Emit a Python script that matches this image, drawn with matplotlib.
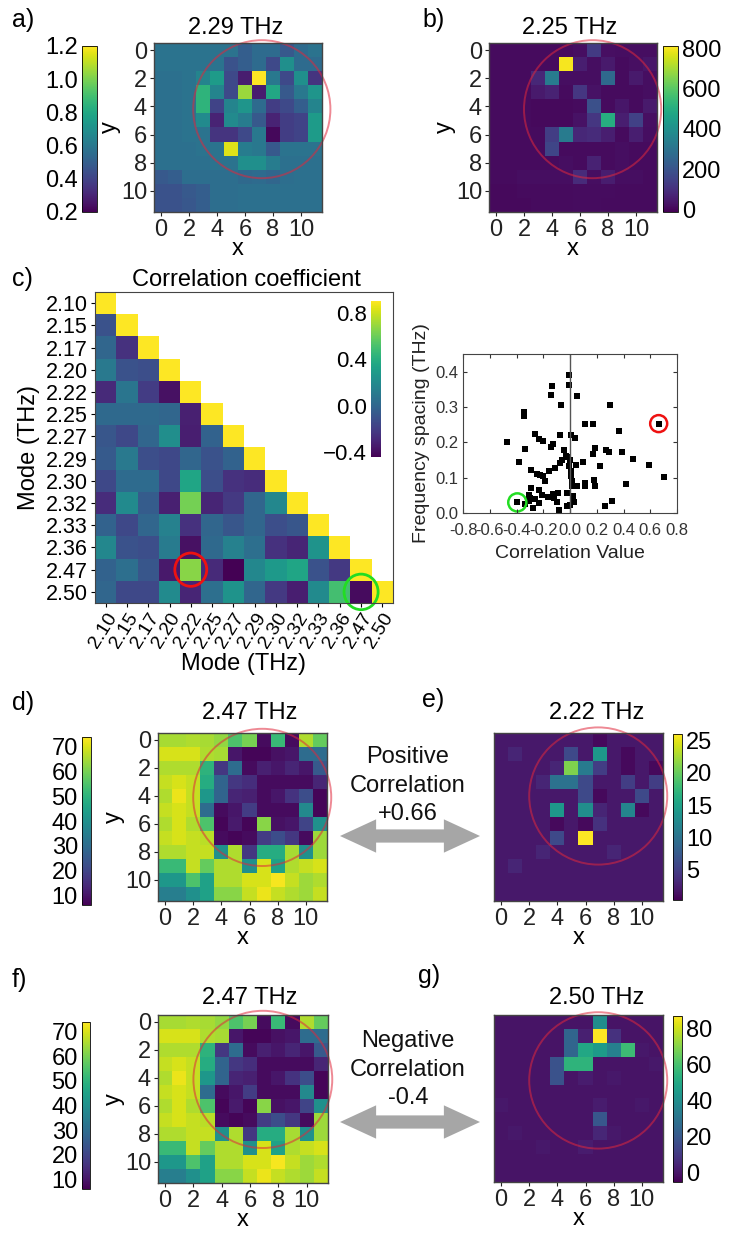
import numpy as np
import matplotlib.pyplot as plt
from matplotlib.patches import Circle, FancyArrowPatch

plt.rcParams['font.family'] = ['Liberation Sans', 'DejaVu Sans']

W, H = 730, 1234

# ---- mode maps (12 x 12, rows = y, cols = x) ----
map_229 = [
    [0.58, 0.58, 0.58, 0.58, 0.58, 0.58, 0.50, 0.55, 0.55, 0.48, 0.55, 0.58],
    [0.58, 0.58, 0.58, 0.58, 0.58, 0.45, 0.50, 0.55, 0.42, 0.70, 0.55, 0.55],
    [0.57, 0.57, 0.58, 0.65, 0.75, 0.42, 0.28, 1.20, 0.60, 0.42, 0.70, 0.35],
    [0.57, 0.57, 0.58, 0.85, 0.65, 0.42, 1.05, 0.28, 0.80, 0.48, 0.60, 0.72],
    [0.57, 0.57, 0.58, 0.85, 0.40, 0.65, 0.72, 0.55, 0.38, 0.42, 0.50, 0.65],
    [0.57, 0.57, 0.58, 0.68, 0.30, 0.68, 0.62, 0.48, 0.30, 0.38, 0.40, 0.75],
    [0.57, 0.57, 0.58, 0.58, 0.35, 0.35, 0.42, 0.60, 0.22, 0.38, 0.40, 0.75],
    [0.57, 0.57, 0.57, 0.58, 0.58, 1.15, 0.62, 0.60, 0.48, 0.58, 0.58, 0.58],
    [0.57, 0.57, 0.57, 0.57, 0.58, 0.58, 0.70, 0.70, 0.62, 0.57, 0.57, 0.57],
    [0.48, 0.50, 0.56, 0.56, 0.56, 0.56, 0.54, 0.55, 0.53, 0.56, 0.57, 0.57],
    [0.45, 0.45, 0.48, 0.50, 0.56, 0.56, 0.57, 0.57, 0.57, 0.57, 0.57, 0.57],
    [0.45, 0.45, 0.47, 0.50, 0.56, 0.56, 0.57, 0.57, 0.57, 0.57, 0.57, 0.57],
]

map_225 = [
    [15, 15, 15, 15, 15, 15, 20, 130, 25, 20, 20, 20],
    [15, 15, 15, 15, 15, 800, 60, 20, 50, 15, 25, 40],
    [15, 15, 15, 80, 330, 20, 20, 20, 270, 15, 50, 20],
    [15, 15, 15, 50, 70, 15, 120, 30, 15, 15, 15, 20],
    [15, 15, 15, 10, 10, 10, 15, 190, 15, 40, 15, 50],
    [15, 15, 15, 10, 10, 10, 30, 120, 500, 60, 150, 25],
    [15, 15, 15, 15, 140, 330, 80, 90, 60, 15, 60, 20],
    [15, 15, 15, 15, 160, 15, 15, 15, 15, 20, 15, 15],
    [15, 15, 15, 15, 15, 20, 15, 70, 15, 20, 15, 15],
    [15, 15, 20, 20, 20, 20, 90, 20, 55, 20, 20, 15],
    [12, 12, 15, 15, 15, 15, 18, 18, 18, 15, 15, 15],
    [10, 12, 12, 15, 15, 15, 18, 18, 15, 15, 15, 15],
]

map_247 = [
    [65, 65, 66, 65, 63, 55, 60, 8, 52, 8, 66, 58],
    [70, 70, 70, 66, 65, 10, 7, 7, 9, 10, 30, 30],
    [66, 66, 66, 50, 17, 30, 8, 12, 10, 13, 10, 25],
    [68, 70, 68, 48, 28, 17, 15, 8, 8, 8, 8, 13],
    [66, 72, 68, 42, 28, 13, 12, 8, 10, 16, 22, 7],
    [68, 70, 68, 30, 8, 10, 18, 8, 8, 8, 38, 7],
    [66, 70, 66, 55, 7, 11, 7, 62, 9, 10, 20, 40],
    [68, 70, 68, 67, 8, 7, 8, 18, 22, 17, 8, 64],
    [66, 66, 68, 68, 40, 66, 17, 48, 48, 65, 40, 64],
    [52, 52, 68, 58, 66, 66, 40, 70, 45, 66, 68, 70],
    [42, 42, 55, 45, 66, 66, 70, 70, 73, 68, 64, 66],
    [35, 35, 40, 45, 62, 62, 68, 72, 68, 66, 64, 68],
]

map_222 = [
    [2, 2, 2, 2, 2, 2, 2, 1, 2, 2, 2, 2],
    [2, 3, 2, 2, 2, 6, 2, 14, 2, 1, 2, 2],
    [2, 2, 2, 2, 3, 21, 11, 5, 2, 1, 2, 1],
    [2, 2, 2, 3, 10, 10, 6, 2, 2, 5, 2, 5],
    [2, 2, 2, 2, 2, 2, 6, 1, 2, 2, 6, 2],
    [2, 2, 2, 2, 14, 2, 13, 3, 2, 12, 1, 2],
    [2, 2, 2, 2, 1, 2, 1, 4, 2, 2, 2, 2],
    [2, 2, 2, 2, 6, 2, 26, 2, 2, 2, 2, 2],
    [2, 2, 2, 3, 2, 2, 2, 2, 3, 2, 2, 2],
    [2, 3, 2, 2, 2, 2, 2, 2, 2, 2, 2, 2],
    [2, 2, 2, 2, 2, 2, 2, 2, 2, 2, 2, 2],
    [2, 2, 2, 2, 2, 2, 2, 2, 2, 2, 2, 2],
]

map_250 = [
    [0, 0, 0, 0, 0, 0, 0, 40, 0, 0, 0, 0],
    [0, 0, 0, 0, 0, 25, 3, 87, 8, 0, 0, 0],
    [0, 0, 0, 0, 0, 25, 50, 45, 35, 58, 1, 0],
    [0, 0, 0, 0, 18, 55, 55, 0, 0, 0, 0, 1],
    [0, 0, 0, 0, 18, 0, 2, 0, 1, 0, 0, 0],
    [0, 0, 0, 0, 0, 0, 0, 0, 0, 0, 0, 0],
    [1, 0, 0, 0, 0, 0, 0, 2, 0, 0, 1, 0],
    [0, 0, 0, 0, 0, 0, 0, 20, 0, 0, 0, 0],
    [0, 1, 0, 0, 0, 0, 0, 5, 1, 0, 0, 0],
    [0, 0, 0, 1, 0, 0, 2, 0, 0, 0, 0, 0],
    [0, 0, 0, 0, 0, 0, 0, 0, 0, 0, 0, 0],
    [0, 0, 0, 0, 0, 0, 0, 0, 0, 0, 0, 0],
]

# ---- correlation matrix (lower triangle, row by row) ----
modes = ['2.10', '2.15', '2.17', '2.20', '2.22', '2.25', '2.27',
         '2.29', '2.30', '2.32', '2.33', '2.36', '2.47', '2.50']
corr_rows = [
    [],
    [-0.10],
    [0.00, -0.25],
    [0.10, -0.10, -0.12],
    [-0.28, 0.08, -0.20, -0.38],
    [0.02, 0.02, 0.02, 0.00, -0.32],
    [-0.08, -0.15, 0.00, 0.22, -0.33, -0.02],
    [-0.06, 0.10, -0.12, -0.15, 0.00, -0.10, -0.02],
    [-0.15, 0.03, 0.03, -0.15, 0.35, -0.12, -0.25, -0.27],
    [-0.27, 0.20, -0.05, -0.32, 0.62, -0.30, -0.22, 0.00, 0.18],
    [-0.02, -0.15, 0.00, 0.15, -0.25, 0.00, -0.08, 0.00, -0.12, -0.08],
    [0.18, -0.10, -0.12, 0.12, -0.38, 0.02, 0.15, 0.05, -0.25, -0.30, 0.25],
    [-0.02, 0.05, -0.08, -0.35, 0.66, -0.28, -0.44, 0.18, 0.28, 0.35, -0.10, -0.22],
    [0.00, -0.15, -0.15, 0.20, -0.30, 0.05, 0.25, 0.00, -0.22, -0.33, 0.20, 0.50, -0.40],
]

# ---- scatter: correlation value vs frequency spacing ----
corr_vals = [-0.474, -0.342, -0.342, -0.339, -0.379, -0.394, -0.337, -0.309, -0.294,
             -0.299, -0.294, -0.274, -0.262, -0.229, -0.204, -0.249, -0.224, -0.204,
             -0.187, -0.229, -0.212, -0.232, -0.155, -0.145, -0.132, -0.145, -0.125,
             -0.112, -0.130, -0.117, -0.100, -0.087, -0.080, -0.067, -0.075, -0.075,
             -0.060, -0.045, -0.032, -0.020, -0.007, -0.010, -0.020, -0.020, 0.007,
             0.037, 0.055, -0.005, 0.007, 0.017, 0.025, 0.032, 0.000, 0.050, 0.045,
             0.100, 0.115, 0.115, 0.115, 0.175, 0.187, 0.170, 0.182, 0.187, 0.227,
             0.264, 0.267, 0.289, 0.299, 0.317, 0.364, 0.389, 0.419, 0.471, 0.591,
             0.663, 0.703, 0.002, 0.010, 0.012, -0.165, -0.310, -0.260]
spacing_vals = [0.202, 0.285, 0.275, 0.182, 0.145, 0.030, 0.025, 0.051, 0.071,
                0.042, 0.123, 0.013, 0.224, 0.210, 0.203, 0.110, 0.108, 0.104,
                0.091, 0.064, 0.050, 0.028, 0.118, 0.333, 0.359, 0.187, 0.194,
                0.128, 0.054, 0.042, 0.032, 0.058, 0.009, 0.306, 0.221, 0.142,
                0.151, 0.178, 0.161, 0.159, 0.391, 0.363, 0.056, 0.021, 0.220,
                0.213, 0.330, 0.132, 0.106, 0.075, 0.049, 0.032, 0.023, 0.075, 0.137,
                0.145, 0.085, 0.077, 0.253, 0.253, 0.185, 0.168, 0.094, 0.075, 0.132,
                0.019, 0.178, 0.173, 0.306, 0.034, 0.231, 0.172, 0.081, 0.153, 0.137,
                0.253, 0.101, 0.150, 0.120, 0.090, 0.045, 0.035, 0.040]
scatter_xticks = [-0.8, -0.6, -0.4, -0.2, 0.0, 0.2, 0.4, 0.6, 0.8]
scatter_xlabels = ['-0.8', '-0.6', '-0.4', '-0.2', '0.0', '0.2', '0.4', '0.6', '0.8']
scatter_yticks = [0.0, 0.1, 0.2, 0.3, 0.4]


fig = plt.figure(figsize=(W / 100, H / 100), dpi=100)


def px_axes(left, top, w, h):
    return fig.add_axes([left / W, 1 - (top + h) / H, w / W, h / H])


def ftext(x, y, s, **kw):
    fig.text(x / W, 1 - y / H, s, **kw)


def mode_map(pos, cpos, data, vmin, vmax, cticks, cb_left, title, tpos, circ, yaxis=True):
    ax = px_axes(*pos)
    im = ax.imshow(np.array(data), cmap='viridis', vmin=vmin, vmax=vmax,
                   interpolation='nearest', aspect='auto')
    ax.set_xticks(range(0, 12, 2))
    ax.set_yticks(range(0, 12, 2))
    ax.tick_params(labelsize=17, length=3, width=0.8, pad=2, colors='#222222')
    ax.set_xlabel('x', fontsize=17, labelpad=-2)
    if yaxis:
        ax.set_ylabel('y', fontsize=17, labelpad=0)
    else:
        ax.tick_params(axis='y', left=False, labelleft=False)
    for sp in ax.spines.values():
        sp.set_color('#444444')
        sp.set_linewidth(1)
    ax.add_patch(Circle((circ[0], circ[1]), circ[2], fill=False, ec='#e0283c',
                        alpha=0.55, lw=1.4, clip_on=False))
    cax = px_axes(*cpos)
    cb = fig.colorbar(im, cax=cax, ticks=cticks)
    cb.outline.set_linewidth(0.6)
    cax.tick_params(labelsize=17, length=0, pad=3)
    if cb_left:
        cax.yaxis.set_ticks_position('left')
        cax.yaxis.set_label_position('left')
    ftext(tpos[0], tpos[1], title, fontsize=17, ha='center', va='baseline')
    return ax


# a) and b)
mode_map((154, 43, 168, 169), (82, 46, 15, 166), map_229, 0.2, 1.2,
         [0.2, 0.4, 0.6, 0.8, 1.0, 1.2], True, '2.29 THz', (236, 34), (7.2, 4.2, 4.9))
mode_map((489, 43, 168, 169), (663, 46, 15, 166), map_225, -10, 810,
         [0, 200, 400, 600, 800], False, '2.25 THz', (570, 34), (6.9, 4.2, 4.9))
ftext(12, 27, 'a)', fontsize=18, va='baseline')
ftext(422, 27, 'b)', fontsize=18, va='baseline')

# c) correlation matrix
n = len(modes)
corr = np.full((n, n), np.nan)
for i, row in enumerate(corr_rows):
    corr[i, :len(row)] = row
    corr[i, i] = 1.0
axc = px_axes(95, 292, 298, 311)
imc = axc.imshow(np.ma.masked_invalid(corr), cmap='viridis', vmin=-0.44, vmax=0.9,
                 interpolation='nearest', aspect='auto')
axc.set_xticks(range(n))
axc.set_yticks(range(n))
axc.set_xticklabels(modes, rotation=58, ha='right', rotation_mode='anchor', fontsize=14)
axc.set_yticklabels(modes, fontsize=15.5)
axc.tick_params(length=3, width=0.8, pad=2)
axc.set_xlabel('Mode (THz)', fontsize=17, labelpad=1)
axc.set_ylabel('Mode (THz)', fontsize=17, labelpad=4)
for sp in axc.spines.values():
    sp.set_color('#444444')
axc.add_patch(Circle((4, 12), 0.75, fill=False, ec='#ee1111', lw=2, clip_on=False))
axc.add_patch(Circle((12, 13), 0.8, fill=False, ec='#22dd22', lw=2, clip_on=False))
caxc = px_axes(371, 301, 10, 156)
cbc = fig.colorbar(imc, cax=caxc, ticks=[0.8, 0.4, 0.0, -0.4])
cbc.outline.set_visible(False)
caxc.yaxis.set_ticks_position('left')
caxc.tick_params(labelsize=16, length=0, pad=3)
ftext(246, 286, 'Correlation coefficient', fontsize=17, ha='center', va='baseline')
ftext(12, 286, 'c)', fontsize=18, va='baseline')

# scatter
axs = px_axes(463, 354, 214, 159)
axs.scatter(corr_vals, spacing_vals, marker='s', s=16, c='black', linewidths=0)
axs.axvline(0, color='#555555', lw=1)
axs.scatter([0.663], [0.253], s=150, facecolors='none', edgecolors='#ee1111', linewidths=1.8)
axs.scatter([-0.394], [0.030], s=170, facecolors='none', edgecolors='#22dd22', linewidths=1.8)
axs.set_xlim(-0.8, 0.8)
axs.set_ylim(0, 0.45)
axs.set_xticks(scatter_xticks)
axs.set_xticklabels(scatter_xlabels, fontsize=11.5)
axs.set_yticks(scatter_yticks)
axs.tick_params(direction='in', top=True, right=True, labelsize=12, length=3,
                colors='#333333', pad=3)
axs.tick_params(axis='x', pad=7)
axs.set_xlabel('Correlation Value', fontsize=14, color='#222222', labelpad=5)
axs.set_ylabel('Frequency spacing (THz)', fontsize=14, color='#222222', labelpad=4)
for sp in axs.spines.values():
    sp.set_color('#444444')

# d), e), f), g)
mode_map((158, 733, 169, 168), (82, 737, 9, 168), map_247, 6, 74,
         [10, 20, 30, 40, 50, 60, 70], True, '2.47 THz', (250, 719), (6.9, 4.1, 4.9))
mode_map((494, 733, 169, 168), (673, 734, 9, 166), map_222, 0.3, 26,
         [5, 10, 15, 20, 25], False, '2.22 THz', (597, 719), (6.9, 4.0, 4.9), yaxis=False)
mode_map((158, 1015, 170, 168), (82, 1022, 8, 167), map_247, 6, 74,
         [10, 20, 30, 40, 50, 60, 70], True, '2.47 THz', (250, 1004), (6.9, 4.1, 4.9))
mode_map((494, 1015, 169, 167), (673, 1016, 9, 166), map_250, -5, 87,
         [0, 20, 40, 60, 80], False, '2.50 THz', (597, 1004), (6.9, 4.2, 4.9), yaxis=False)
ftext(12, 710, 'd)', fontsize=18, va='baseline')
ftext(422, 707, 'e)', fontsize=18, va='baseline')
ftext(12, 987, 'f)', fontsize=18, va='baseline')
ftext(418, 983, 'g)', fontsize=18, va='baseline')

# arrows with labels
arrow_style = 'simple,head_length=26,head_width=24,tail_width=9.5'
for y_arrow, lines, y0 in [(836, ['Positive', 'Correlation', '+0.66'], 763),
                           (1122, ['Negative', 'Correlation', '-0.4'], 1047)]:
    for x_end in (340, 480):
        fig.patches.append(FancyArrowPatch(
            (410 / W, 1 - y_arrow / H), (x_end / W, 1 - y_arrow / H),
            transform=fig.transFigure, arrowstyle=arrow_style, mutation_scale=1,
            shrinkA=0, shrinkB=0, color='#a6a6a6', lw=0))
    for k, s in enumerate(lines):
        ftext(408, y0 + 28.5 * k, s, fontsize=17, ha='center', va='baseline', color='#111111')

fig.savefig('out.png', dpi=100)
